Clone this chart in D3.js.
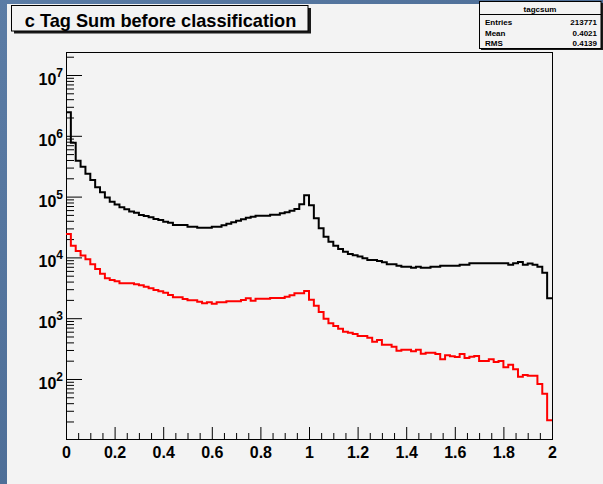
<!DOCTYPE html>
<html><head><meta charset="utf-8">
<script src="https://cdn.jsdelivr.net/npm/d3@7"></script>
<style>
html,body{margin:0;padding:0;}
body{width:603px;height:484px;overflow:hidden;background:#4d6d96;}
svg{display:block;}
</style></head><body>
<svg id="c" width="603" height="484"></svg>
<script>
// ---- data ----
const binLo = 0, binHi = 2, nBins = 100;
const blackCounts = [2430000, 770000, 389000, 310000, 238000, 188000, 142000, 118000, 97000, 82000,
  74000, 67000, 62000, 57000, 54000, 50000, 48000, 45700, 42800, 41200,
  38700, 37200, 34100, 34100, 34100, 32000, 32000, 30800, 30800, 30800,
  32000, 32000, 33700, 35800, 37800, 40200, 42400, 45000, 46700, 48500,
  48500, 48500, 50400, 50400, 53100, 55200, 58600, 62500, 74700, 105000,
  71900, 44000, 30100, 21900, 18100, 15600, 13700, 12400, 11400, 10800,
  10300, 9700, 9060, 9060, 8730, 8300, 7700, 7700, 7300, 7030,
  7030, 6780, 7030, 6780, 6780, 7030, 7030, 7300, 7300, 7300,
  7300, 7590, 7590, 8000, 8000, 8000, 8000, 8000, 8000, 8000,
  8000, 7590, 8000, 8400, 7590, 7900, 7590, 7030, 5600, 2120];
const redCounts = [24300, 15600, 12700, 10700, 9300, 7700, 6440, 5400, 4530, 4250,
  4040, 3750, 3750, 3750, 3610, 3480, 3300, 3100, 2910, 2770,
  2630, 2410, 2210, 2210, 2070, 1970, 1970, 1870, 1760, 1830,
  1730, 1830, 1830, 1900, 1900, 1900, 1990, 2120, 1940, 2090,
  2090, 2090, 2150, 2150, 2150, 2260, 2380, 2570, 2570, 2800,
  2010, 1600, 1270, 982, 824, 745, 671, 600, 578, 550,
  510, 510, 478, 410, 438, 367, 367, 340, 292, 303,
  303, 286, 303, 261, 271, 271, 258, 211, 245, 236,
  230, 258, 221, 233, 239, 198, 198, 211, 190, 198,
  156, 172, 144, 109, 116, 113, 113, 83, 57, 21];
const xTickValues = [0, 0.2, 0.4, 0.6, 0.8, 1, 1.2, 1.4, 1.6, 1.8, 2];
const xTickLabels = ["0", "0.2", "0.4", "0.6", "0.8", "1", "1.2", "1.4", "1.6", "1.8", "2"];
const yTickExponents = [2, 3, 4, 5, 6, 7];
const yDomain = [10.3, 2.39e7];
const titleText = "c Tag Sum before classification";
const statsName = "tagcsum";
const statsLabels = ["Entries", "Mean", "RMS"];
const statsValues = ["213771", "0.4021", "0.4139"];

// ---- drawing ----
const FONT = "'Liberation Sans', Arial, Helvetica, sans-serif";
const svg = d3.select("#c");
const frame = {l: 66, r: 552, t: 52, b: 439};
const x = d3.scaleLinear().domain([binLo, binHi]).range([frame.l, frame.r]);
const y = d3.scaleLog().domain(yDomain).range([frame.b, frame.t]);

const defs = svg.append("defs");
const gr = defs.append("linearGradient").attr("id", "bg").attr("x1", 0).attr("y1", 0).attr("x2", 1).attr("y2", 1);
gr.append("stop").attr("offset", "0%").attr("stop-color", "#5b7ca5");
gr.append("stop").attr("offset", "100%").attr("stop-color", "#41618a");
svg.append("rect").attr("width", 603).attr("height", 484).attr("fill", "url(#bg)");
svg.append("rect").attr("x", 7).attr("y", 4).attr("width", 596).attr("height", 480).attr("fill", "#f3f3f3");

defs.append("clipPath").attr("id", "fr").append("rect")
  .attr("x", frame.l).attr("y", frame.t).attr("width", frame.r - frame.l).attr("height", frame.b - frame.t);

// frame
svg.append("rect").attr("x", frame.l + 0.5).attr("y", frame.t + 0.5)
  .attr("width", frame.r - frame.l).attr("height", frame.b - frame.t)
  .attr("fill", "none").attr("stroke", "#000").attr("stroke-width", 1);

// x axis
const xMinor = d3.range(41).map(i => i * 0.05).filter(v => Math.abs(v * 5 - Math.round(v * 5)) > 1e-6);
const gx = svg.append("g").attr("transform", `translate(0,${frame.b})`)
  .call(d3.axisBottom(x).tickValues(xTickValues).tickSize(-12).tickPadding(8)
    .tickFormat((d, i) => xTickLabels[i]));
const gxm = svg.append("g").attr("transform", `translate(0,${frame.b})`)
  .call(d3.axisBottom(x).tickValues(xMinor).tickSize(-6).tickFormat(""));
gx.selectAll("text").attr("font-family", FONT).attr("font-size", 16).attr("font-weight", "bold").attr("fill", "#000");

// y axis
const yMajor = yTickExponents.map(e => Math.pow(10, e));
const yMinor = y.ticks().filter(v => Math.abs(Math.log10(v) - Math.round(Math.log10(v))) > 1e-9);
const gy = svg.append("g").attr("transform", `translate(${frame.l},0)`)
  .call(d3.axisLeft(y).tickValues(yMajor).tickSize(-16).tickFormat(""));
const gym = svg.append("g").attr("transform", `translate(${frame.l},0)`)
  .call(d3.axisLeft(y).tickValues(yMinor).tickSize(-8).tickFormat(""));
[gx, gxm, gy, gym].forEach(g => { g.select(".domain").remove(); g.selectAll("line").attr("stroke", "#000"); });

const ylab = svg.append("g");
yTickExponents.forEach(e => {
  const t = ylab.append("text").attr("x", 63).attr("y", y(Math.pow(10, e)) + 10)
    .attr("text-anchor", "end").attr("font-family", FONT).attr("font-weight", "bold").attr("fill", "#000");
  t.append("tspan").attr("font-size", 16).text("10");
  t.append("tspan").attr("font-size", 12).attr("dy", -8).text(String(e));
});

// histograms
const edges = d3.range(nBins + 1).map(i => binLo + (binHi - binLo) * i / nBins);
function stepPts(counts) {
  const pts = counts.map((c, i) => [edges[i], c]);
  pts.push([edges[nBins], counts[nBins - 1]]);
  return pts;
}
const line = d3.line().x(d => x(d[0])).y(d => y(d[1])).curve(d3.curveStepAfter);
const gh = svg.append("g").attr("clip-path", "url(#fr)");
gh.append("path").attr("d", line(stepPts(blackCounts))).attr("fill", "none")
  .attr("stroke", "#000").attr("stroke-width", 2);
gh.append("path").attr("d", line(stepPts(redCounts))).attr("fill", "none")
  .attr("stroke", "#ff0000").attr("stroke-width", 2);

// title box
svg.append("rect").attr("x", 14).attr("y", 8).attr("width", 297).attr("height", 25.5).attr("fill", "#1a1a1a");
svg.append("rect").attr("x", 11.5).attr("y", 5.5).attr("width", 296.5).attr("height", 25.5)
  .attr("fill", "#f3f3f3").attr("stroke", "#000").attr("stroke-width", 1);
svg.append("text").attr("x", 160.5).attr("y", 26.5).attr("text-anchor", "middle")
  .attr("font-family", FONT).attr("font-weight", "bold").attr("font-size", 18.2).attr("fill", "#000")
  .text(titleText);

// stats box
svg.append("rect").attr("x", 481).attr("y", 3).attr("width", 122).attr("height", 47).attr("fill", "#1a1a1a");
svg.append("rect").attr("x", 479.5).attr("y", 1.5).attr("width", 121.5).attr("height", 47)
  .attr("fill", "#f3f3f3").attr("stroke", "#000").attr("stroke-width", 1);
svg.append("line").attr("x1", 479.5).attr("x2", 601).attr("y1", 14.5).attr("y2", 14.5).attr("stroke", "#000");
svg.append("text").attr("x", 540).attr("y", 12).attr("text-anchor", "middle")
  .attr("font-family", FONT).attr("font-size", 8).attr("font-weight", "bold").attr("fill", "#000").text(statsName);
statsLabels.forEach((lab, i) => {
  const yy = 25 + i * 10.5;
  svg.append("text").attr("x", 485).attr("y", yy).attr("font-family", FONT).attr("font-size", 8)
    .attr("font-weight", "bold").attr("fill", "#000").text(lab);
  svg.append("text").attr("x", 597).attr("y", yy).attr("text-anchor", "end").attr("font-family", FONT)
    .attr("font-size", 8).attr("font-weight", "bold").attr("fill", "#000").text(statsValues[i]);
});
</script>
</body></html>
